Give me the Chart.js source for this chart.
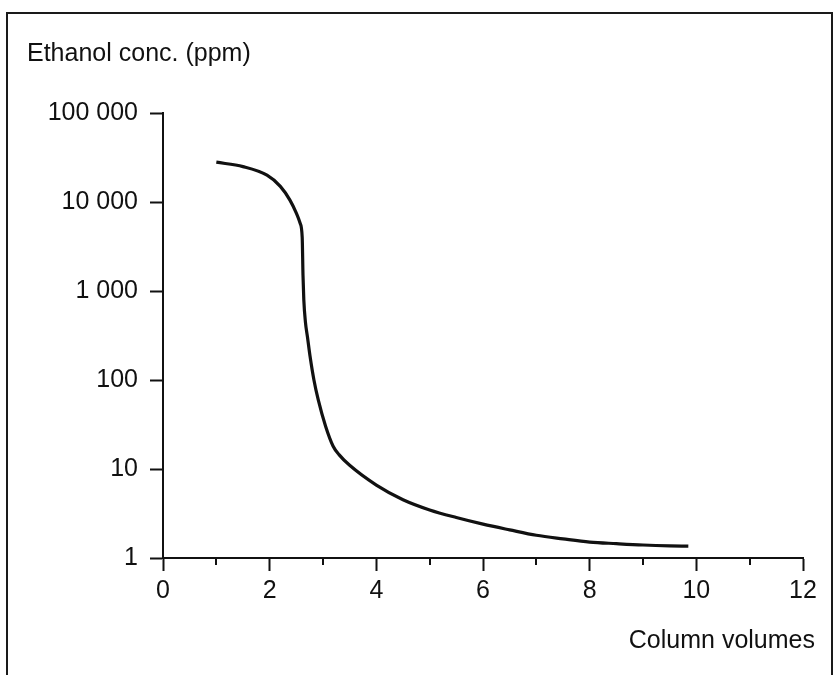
<!DOCTYPE html>
<html>
<head>
<meta charset="utf-8">
<script src="https://cdn.jsdelivr.net/npm/chart.js@4.4.1/dist/chart.umd.min.js"></script>
<style>
  body { margin: 0; background: #fff; }
  #wrap { position: relative; width: 834px; height: 675px; overflow: hidden; }
  #frame {
    position: absolute; left: 6px; top: 12px; right: 1px; height: 720px;
    border: 2px solid #1a1a1a; border-bottom: none; pointer-events: none;
  }
</style>
</head>
<body>
<div id="wrap">
  <canvas id="chart" width="834" height="675"></canvas>
  <div id="frame"></div>
</div>
<script>
// Data
const columnVolumes = [1.0, 1.5, 1.95, 2.2, 2.38, 2.5, 2.57, 2.61, 2.625, 2.64, 2.67, 2.71, 2.76, 2.83, 2.91, 3.05, 3.19, 3.3, 3.5, 4.0, 4.5, 5.0, 5.5, 6.0, 6.5, 7.0, 7.5, 8.0, 8.5, 9.0, 9.5, 9.85];
const ethanolPpm = [28000, 25000, 20000, 15000, 10500, 7500, 5800, 4000, 1500, 800, 450, 300, 180, 100, 60, 30, 18, 14.5, 11, 6.6, 4.52, 3.47, 2.85, 2.4, 2.07, 1.8, 1.64, 1.51, 1.45, 1.4, 1.37, 1.36];
const yTickValues = [1, 10, 100, 1000, 10000, 100000];
const xMinorTicks = [1, 3, 5, 7, 9, 11];

const ink = '#111';
const font = { family: 'Liberation Sans, Arial, sans-serif', size: 25 };

function spaced(v) {
  return String(v).replace(/\B(?=(\d{3})+(?!\d))/g, ' ');
}

// minor ticks on the x axis and the two axis captions
const extras = {
  id: 'extras',
  afterDraw(chart) {
    const ctx = chart.ctx;
    const xs = chart.scales.x;
    const y0 = chart.chartArea.bottom;
    ctx.save();
    ctx.strokeStyle = ink;
    ctx.lineWidth = 2;
    xMinorTicks.forEach(v => {
      const px = Math.round(xs.getPixelForValue(v));
      ctx.beginPath();
      ctx.moveTo(px, y0);
      ctx.lineTo(px, y0 + 7);
      ctx.stroke();
    });
    ctx.fillStyle = ink;
    ctx.font = `${font.size}px ${font.family}`;
    ctx.textBaseline = 'middle';
    ctx.textAlign = 'left';
    ctx.fillText('Ethanol conc. (ppm)', 27, 54);
    ctx.textAlign = 'right';
    ctx.fillText('Column volumes', 815, 641);
    ctx.restore();
  }
};

new Chart(document.getElementById('chart'), {
  type: 'line',
  data: {
    datasets: [{
      data: columnVolumes.map((x, i) => ({ x: x, y: ethanolPpm[i] })),
      borderColor: ink,
      borderWidth: 3.2,
      pointRadius: 0,
      cubicInterpolationMode: 'monotone',
      fill: false
    }]
  },
  options: {
    responsive: false,
    animation: false,
    layout: { padding: { left: 0, top: 113, right: 31, bottom: 0 } },
    plugins: { legend: { display: false }, tooltip: { enabled: false } },
    scales: {
      x: {
        type: 'linear',
        min: 0,
        max: 12,
        afterFit(s) { s.height = 117; },
        ticks: { stepSize: 2, color: ink, font: font, padding: 5, maxRotation: 0 },
        grid: { drawOnChartArea: false, tickLength: 13, tickColor: ink, tickWidth: 2 },
        border: { color: ink, width: 2 }
      },
      y: {
        type: 'logarithmic',
        min: 1,
        max: 100000,
        afterFit(s) { s.width = 163; },
        afterBuildTicks(s) { s.ticks = yTickValues.map(v => ({ value: v })); },
        ticks: { color: ink, font: font, padding: 12, callback: v => spaced(v) },
        grid: { drawOnChartArea: false, tickLength: 13, tickColor: ink, tickWidth: 2 },
        border: { color: ink, width: 2 }
      }
    }
  },
  plugins: [extras]
});
</script>
</body>
</html>
